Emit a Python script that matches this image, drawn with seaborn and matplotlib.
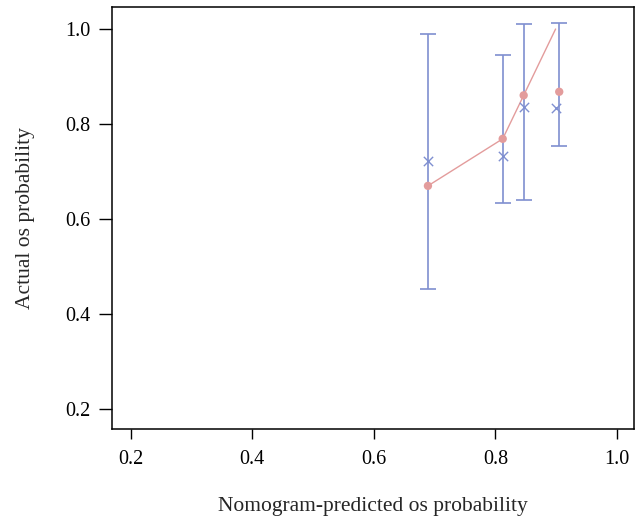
import seaborn as sns
import matplotlib.pyplot as plt
import pandas as pd

# calibration data
pred = [0.689, 0.812, 0.8465, 0.905]
observed = [0.670, 0.769, 0.8605, 0.868]
cross_x = [0.689, 0.812, 0.8465, 0.900]
corrected = [0.723, 0.733, 0.8366, 0.8345]
ci_low = [0.4525, 0.634, 0.641, 0.754]
ci_high = [0.9895, 0.945, 1.0105, 1.013]
line_x = [0.689, 0.812, 0.8465, 0.899]
line_y = [0.670, 0.769, 0.8605, 1.0]

blue = "#7f8fd0"
red = "#e39c9c"

sns.set_style("ticks")
plt.rcParams["font.family"] = ["Liberation Serif", "DejaVu Serif"]

fig = plt.figure(figsize=(6.41, 5.19), dpi=100)
ax = fig.add_axes([112.3 / 641, 1 - 428.7 / 519, (634.3 - 112.3) / 641, (428.7 - 6.7) / 519])

df = pd.DataFrame({"pred": pred, "obs": observed, "cx": cross_x, "corr": corrected})
lower = [c - l for c, l in zip(corrected, ci_low)]
upper = [h - c for c, h in zip(corrected, ci_high)]

ax.errorbar(pred, corrected, yerr=[lower, upper], fmt="none", ecolor=blue,
            elinewidth=1.2, capsize=5.7, capthick=1.2, zorder=2)
sns.lineplot(x=line_x, y=line_y, ax=ax, color=red, linewidth=1.0, sort=False, zorder=3)
sns.scatterplot(data=df, x="cx", y="corr", ax=ax, marker="x", color=blue,
                s=45, linewidth=1.0, zorder=4)
sns.scatterplot(data=df, x="pred", y="obs", ax=ax, color=red, s=36,
                edgecolor="none", zorder=5)

ax.set_xlim(0.1697, 1.0285)
ax.set_ylim(0.159, 1.047)
ax.set_xticks([0.2, 0.4, 0.6, 0.8, 1.0])
ax.set_yticks([0.2, 0.4, 0.6, 0.8, 1.0])
ax.set_xticklabels(["0.2", "0.4", "0.6", "0.8", "1.0"])
ax.set_yticklabels(["0.2", "0.4", "0.6", "0.8", "1.0"])
ax.tick_params(axis="x", length=7.5, width=1.0, labelsize=14.5, pad=8, colors="black")
ax.tick_params(axis="y", length=9.5, width=1.0, labelsize=14.5, pad=6, colors="black")
for s in ax.spines.values():
    s.set_linewidth(1.1)
    s.set_color("black")

ax.set_xlabel("Nomogram-predicted os probability", fontsize=15.5, labelpad=20)
ax.set_ylabel("Actual os probability", fontsize=15.5, labelpad=22)

fig.savefig("out.png", dpi=100)
